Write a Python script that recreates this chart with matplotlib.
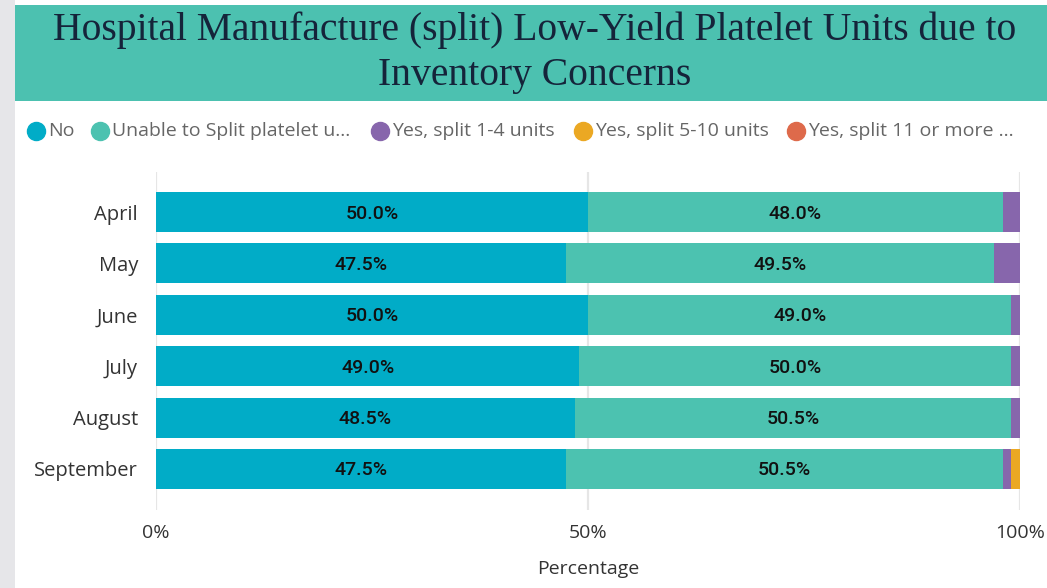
import matplotlib.pyplot as plt
from matplotlib.patches import Rectangle
from matplotlib.lines import Line2D
import numpy as np

# data
months = ['April', 'May', 'June', 'July', 'August', 'September']
series_names = ['No', 'Unable to Split platelet u...', 'Yes, split 1-4 units',
                'Yes, split 5-10 units', 'Yes, split 11 or more ...']
no_vals = [50.0, 47.5, 50.0, 49.0, 48.5, 47.5]
unable_vals = [48.0, 49.5, 49.0, 50.0, 50.5, 50.5]
split_1_4 = [2.0, 3.0, 1.0, 1.0, 1.0, 1.0]
split_5_10 = [0.0, 0.0, 0.0, 0.0, 0.0, 1.0]
split_11 = [0.0, 0.0, 0.0, 0.0, 0.0, 0.0]

colors = ['#01ACC7', '#4CC2B0', '#8766AC', '#EBA823', '#DE6A4B']
W, H = 1047, 588

fig = plt.figure(figsize=(W / 100, H / 100), dpi=100)
fig.patch.set_facecolor('white')

# left grey strip and teal title banner
fig.add_artist(Rectangle((0, 0), 15 / W, 1, transform=fig.transFigure,
                         facecolor='#e6e6e9', edgecolor='none'))
fig.add_artist(Rectangle((15 / W, 1 - 101 / H), 1 - 15 / W, 96 / H,
                         transform=fig.transFigure, facecolor='#4CC1B0',
                         edgecolor='none'))
fig.text(535 / W, 1 - 53 / H,
         'Hospital Manufacture (split) Low-Yield Platelet Units due to\nInventory Concerns',
         ha='center', va='center', fontsize=28.5, family='Liberation Serif',
         color='#15243a', linespacing=1.3)

# legend drawn by hand, Power BI style
leg_x = [36, 100, 380, 583, 796]
for name, c, x in zip(series_names, colors, leg_x):
    fig.add_artist(Line2D([x / W], [1 - 131 / H], marker='o', markersize=13,
                          color=c, transform=fig.transFigure))
    fig.text((x + 12) / W, 1 - 131 / H, name, ha='left', va='center',
             fontsize=14, family='Open Sans', color='#666666')

ax = fig.add_axes([156 / W, 1 - 510 / H, 864 / W, 338 / H])
y = np.arange(len(months))
left = np.zeros(len(months))
all_series = [no_vals, unable_vals, split_1_4, split_5_10, split_11]
for i, (vals, c) in enumerate(zip(all_series, colors)):
    vals = np.array(vals)
    ax.barh(y, vals, left=left, height=0.78, color=c, zorder=3)
    if i < 2:
        for yi, l, v in zip(y, left, vals):
            ax.text(l + v / 2, yi + 0.03, f'{v:.1f}%', ha='center', va='center',
                    fontsize=14, family='Roboto', fontweight='medium',
                    color='#111111', zorder=4)
    left += vals

ax.set_xlim(0, 100)
ax.set_ylim(5.8, -0.78)
ax.set_yticks(y)
ax.set_yticklabels(months, fontsize=14.5, family='Open Sans', color='#333333')
ax.set_xticks([0, 50, 100])
ax.set_xticklabels(['0%', '50%', '100%'], fontsize=14, family='Open Sans',
                   color='#333333')
ax.tick_params(length=0, axis='y', pad=13)
ax.tick_params(length=0, axis='x', pad=10)
ax.grid(axis='x', color='#e6e6e6', linewidth=1.6, zorder=0)
for s in ax.spines.values():
    s.set_visible(False)
ax.set_xlabel('Percentage', fontsize=14, family='Open Sans', color='#333333',
              labelpad=13)

fig.savefig('out.png', dpi=100)
